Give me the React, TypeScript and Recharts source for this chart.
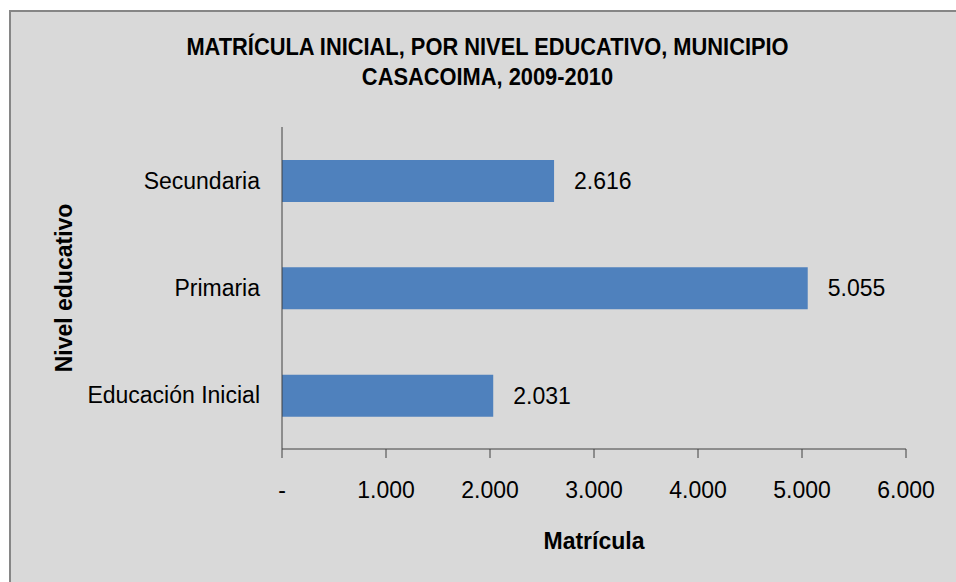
import React from 'react';
import { BarChart, Bar, XAxis, YAxis, LabelList, Label } from 'recharts';

// Matrícula inicial por nivel educativo, Casacoima 2009-2010
const niveles = ['Secundaria', 'Primaria', 'Educación Inicial'];
const matricula = [2616, 5055, 2031];
const xTicks = [0, 1000, 2000, 3000, 4000, 5000, 6000];
const titleLines = ['MATRÍCULA INICIAL, POR NIVEL EDUCATIVO, MUNICIPIO', 'CASACOIMA, 2009-2010'];

const data = niveles.map((nivel, i) => ({ nivel, matricula: matricula[i] }));

const FONT = '"Liberation Sans Narrow", "Arial Narrow", "Liberation Sans", Arial, sans-serif';

const fmt = (v: number) =>
  v === 0 ? '-' : String(v).replace(/\B(?=(\d{3})+(?!\d))/g, '.');

export default function App() {
  return (
    <div
      style={{
        position: 'absolute',
        left: 0,
        top: 0,
        width: 956,
        height: 582,
        overflow: 'hidden',
        background: '#fff',
        fontFamily: FONT,
      }}
    >
      <div
        style={{
          position: 'absolute',
          left: 9,
          top: 10,
          width: 1000,
          height: 640,
          background: '#d9d9d9',
          border: '2px solid #868686',
        }}
      />
      <div
        style={{
          position: 'absolute',
          left: 0,
          top: 32,
          width: 975,
          textAlign: 'center',
          fontWeight: 'bold',
          fontSize: 24,
          lineHeight: '30px',
          color: '#000',
          transform: 'scaleX(0.91)',
        }}
      >
        {titleLines.map((t) => (
          <div key={t}>{t}</div>
        ))}
      </div>
      <div style={{ position: 'absolute', left: 0, top: 0 }}>
        <BarChart
          width={956}
          height={582}
          data={data}
          layout="vertical"
          margin={{ top: 127, right: 50, bottom: 0, left: 0 }}
          barCategoryGap="60%"
        >
          <XAxis
            type="number"
            domain={[0, 6000]}
            ticks={xTicks}
            tickFormatter={fmt}
            stroke="#404040"
            tickSize={9}
            tickMargin={24}
            height={133}
            tick={{ fill: '#000', fontSize: 23, fontFamily: FONT }}
          >
            <Label
              value="Matrícula"
              position="insideTop"
              offset={84}
              style={{ fill: '#000', fontSize: 23, fontWeight: 'bold', fontFamily: FONT }}
            />
          </XAxis>
          <YAxis
            type="category"
            dataKey="nivel"
            width={282}
            stroke="#404040"
            tickLine={false}
            tickSize={0}
            tickMargin={22}
            tick={{ fill: '#000', fontSize: 23, fontFamily: FONT }}
          >
            <Label
              value="Nivel educativo"
              angle={-90}
              position="insideLeft"
              offset={64}
              style={{
                fill: '#000',
                fontSize: 23,
                fontWeight: 'bold',
                fontFamily: FONT,
                textAnchor: 'middle',
              }}
            />
          </YAxis>
          <Bar dataKey="matricula" fill="#4f81bd" barSize={42} isAnimationActive={false}>
            <LabelList
              dataKey="matricula"
              position="right"
              offset={20}
              formatter={(v: any) => fmt(Number(v))}
              style={{ fill: '#000', fontSize: 23, fontFamily: FONT }}
            />
          </Bar>
        </BarChart>
      </div>
    </div>
  );
}
